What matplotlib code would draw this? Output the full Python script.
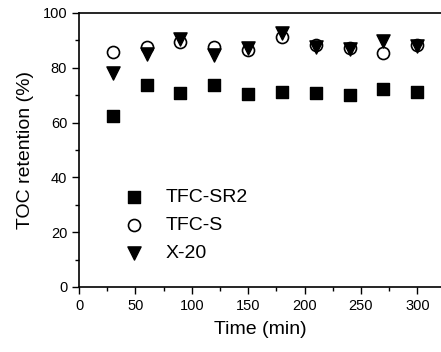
import matplotlib
matplotlib.use('Agg')
import matplotlib.pyplot as plt
from matplotlib.ticker import MultipleLocator

plt.rcParams['font.family'] = ['Liberation Sans', 'DejaVu Sans']

time = [30, 60, 90, 120, 150, 180, 210, 240, 270, 300]
tfc_sr2 = [62.4, 73.6, 70.9, 73.8, 70.6, 71.1, 70.7, 70.2, 72.3, 71.3]
tfc_s = [85.8, 87.7, 89.3, 87.6, 86.6, 91.1, 88.2, 87.1, 85.3, 88.3]
x20 = [78.0, 84.9, 90.4, 84.7, 87.1, 92.6, 87.7, 86.8, 89.9, 87.9]

fig = plt.figure(figsize=(4.41, 3.52), dpi=100)
ax = fig.add_axes([79/441, 1 - 287/352, 1 - 79/441, (287 - 13)/352])

ax.scatter(time, tfc_sr2, marker='s', s=75, color='black', label='TFC-SR2', zorder=3)
ax.scatter(time, tfc_s, marker='o', s=75, facecolors='white', edgecolors='black',
           linewidths=1.2, label='TFC-S', zorder=3)
ax.scatter(time, x20, marker='v', s=90, color='black', label='X-20', zorder=4)

ax.set_xlim(0, 321)
ax.set_ylim(0, 100)
ax.xaxis.set_major_locator(MultipleLocator(50))
ax.xaxis.set_minor_locator(MultipleLocator(25))
ax.yaxis.set_major_locator(MultipleLocator(20))
ax.yaxis.set_minor_locator(MultipleLocator(10))
ax.tick_params(which='both', direction='out', labelsize=10.5, width=1)
ax.tick_params(which='major', length=5)
ax.tick_params(which='minor', length=3)
ax.spines['right'].set_visible(False)
for s in ['left', 'bottom', 'top']:
    ax.spines[s].set_linewidth(1.2)

ax.set_xlabel('Time (min)', fontsize=14, labelpad=6)
ax.set_ylabel('TOC retention (%)', fontsize=14, labelpad=6)

ax.legend(loc='lower left', bbox_to_anchor=(0.05, 0.027), frameon=False,
          fontsize=14, handletextpad=0.6, labelspacing=0.53, scatterpoints=1)

fig.savefig('out.png', dpi=100)
